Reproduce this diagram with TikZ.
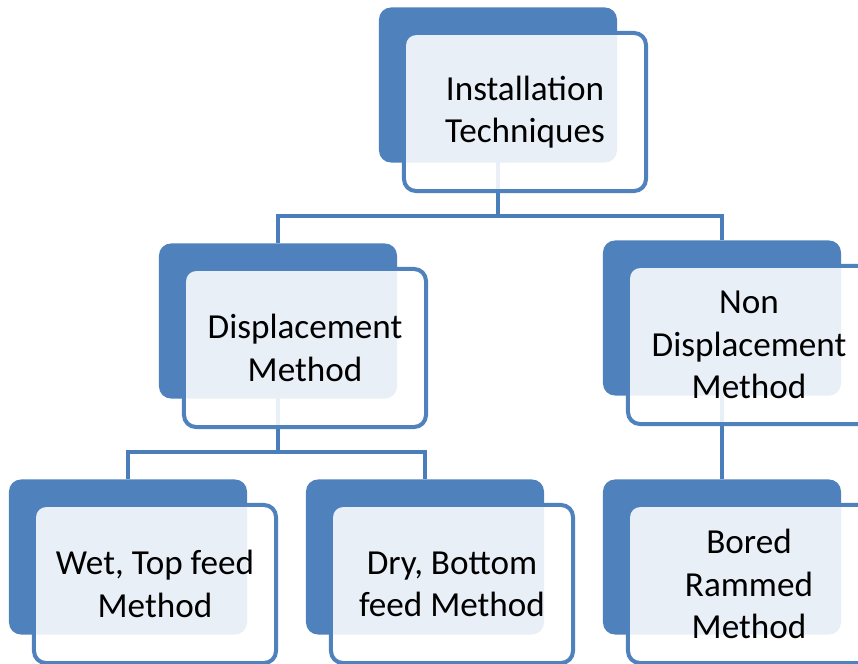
\documentclass[tikz,border=0pt]{standalone}
\usepackage{fontspec}
\setmainfont{Carlito}
\usetikzlibrary{positioning, calc, backgrounds}
\definecolor{accent}{HTML}{4F81BD}
\definecolor{linkblue}{HTML}{4A7EBB}

\begin{document}
\begin{tikzpicture}[
  x=0.025cm, y=-0.025cm,
  back/.style  = {rectangle, rounded corners=0.3cm, fill=accent,
                  minimum width=5.95cm, minimum height=3.875cm},
  front/.style = {rectangle, rounded corners=0.3cm, draw=accent,
                  line width=0.1cm, fill=white, fill opacity=0.88,
                  text opacity=1, minimum width=6.05cm, minimum height=3.95cm,
                  align=center, font=\fontsize{25}{30}\selectfont},
  link/.style  = {draw=linkblue, line width=0.1cm},
]
\clip (0,0) rectangle (858,664);

% shadow boxes
\node[back] (instb)    at (498,85)  {};
\node[back] (dispb)    at (278,321) {};
\node[back] (nondispb) at (722,318) {};
\node[back] (wetb)     at (128,557) {};
\node[back] (dryb)     at (425,557) {};
\node[back] (boredb)   at (722,557) {};

% text boxes
\node[front] (inst)    at ($(instb)+(27,27)$)    {Installation\\Techniques};
\node[front] (disp)    at ($(dispb)+(27,27)$)    {Displacement\\Method};
\node[front] (nondisp) at ($(nondispb)+(27,27)$) {Non\\Displacement\\Method};
\node[front] (wet)     at ($(wetb)+(27,27)$)     {Wet, Top feed\\Method};
\node[front] (dry)     at ($(dryb)+(27,27)$)     {Dry, Bottom\\feed Method};
\node[front] (bored)   at ($(boredb)+(27,27)$)   {Bored\\Rammed\\Method};

\begin{scope}[on background layer]
\coordinate (busa) at ($(instb)+(0,131)$);
\coordinate (busb) at ($(dispb)+(0,131)$);
\draw[link] (instb.center) -- (busa);
\draw[link] (busa) -| (dispb.north);
\draw[link] (busa) -| (nondispb.north);
\draw[link] (dispb.center) -- (busb);
\draw[link] (busb) -| (wetb.north);
\draw[link] (busb) -| (dryb.north);
\draw[link] (nondispb.center) -- (boredb.north);
\end{scope}

\end{tikzpicture}
\end{document}
